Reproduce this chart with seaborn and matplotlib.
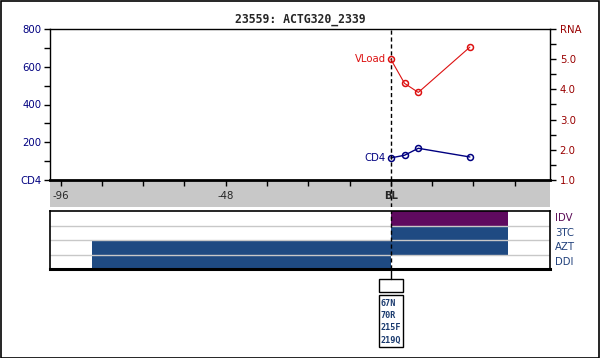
import numpy as np
import pandas as pd
import matplotlib
matplotlib.use("Agg")
import matplotlib.pyplot as plt
import seaborn as sns
from matplotlib.patches import Rectangle
from matplotlib.lines import Line2D
from matplotlib.transforms import blended_transform_factory

# ---- data ----
title = "23559: ACTG320_2339"
weeks = [0, 4, 8, 23]
cd4 = [117, 131, 168, 122]
vload = [5.0, 4.2, 3.9, 5.4]
xtick_vals = [-96, -48, 0]
xtick_labels = ["-96", "-48", "BL"]
cd4_ticks = [0, 200, 400, 600, 800]
cd4_tick_labels = ["CD4", "200", "400", "600", "800"]
rna_ticks = [1.0, 2.0, 3.0, 4.0, 5.0, 6.0]
rna_tick_labels = ["1.0", "2.0", "3.0", "4.0", "5.0", "RNA"]
drugs = ["IDV", "3TC", "AZT", "DDI"]
drug_start = [0, 0, -87, -87]
drug_stop = [34, 34, 34, 0]
mutations = ["67N", "70R", "215F", "219Q"]

sns.set_theme(style="white")
plt.rcParams["font.family"] = ["DejaVu Sans"]

W, H = 600, 358
fig = plt.figure(figsize=(W / 100, H / 100), dpi=100)
fig.patch.set_facecolor("white")

def rect(l, t, r, b):
    return [l / W, (H - b) / H, (r - l) / W, (b - t) / H]

XMIN, XMAX = -99.1, 46.3
NAVY = "#000080"
DRED = "#990000"
RED = "#dd1111"
BAR_BLUE = "#1f4a82"
BAR_PURPLE = "#5f0a5f"

# gray band
axg = fig.add_axes(rect(50, 180, 550, 207))
axg.set_facecolor("#c8c8c8")
axg.set_xlim(XMIN, XMAX)
axg.set_ylim(0, 1)
axg.set_xticks([]); axg.set_yticks([])
for s in axg.spines.values():
    s.set_visible(False)
axg.axvline(0, color="black", lw=1, ls=(0, (3, 2)))

# main axes
ax = fig.add_axes(rect(50, 29, 550, 180))
ax.set_facecolor("none")
ax.set_xlim(XMIN, XMAX)
ax.set_ylim(0, 800)
df = pd.DataFrame({"week": weeks, "cd4": cd4, "vload": vload})
sns.lineplot(data=df, x="week", y="cd4", ax=ax, color=NAVY, lw=1,
             marker="o", markersize=4.3, markerfacecolor="none",
             markeredgecolor=NAVY, markeredgewidth=1.1)
ax.set_xlabel(""); ax.set_ylabel("")
ax.set_yticks(cd4_ticks)
ax.set_yticklabels(cd4_tick_labels, color=NAVY, fontsize=7.3)
ax.set_yticks(np.arange(100, 800, 200), minor=True)
ax.tick_params(axis="y", which="both", direction="out", length=4, width=1,
               color="black", left=True, pad=2)
ax.set_xticks(xtick_vals)
ax.set_xticklabels(xtick_labels, fontsize=7.3)
ax.get_xticklabels()[2].set_fontweight("bold")
ax.set_xticks(np.arange(-84, 46, 12), minor=True)
ax.tick_params(axis="x", which="both", direction="out", length=4, width=1,
               color="black", bottom=True, pad=4)
for s in ["left", "top", "right"]:
    ax.spines[s].set_color("black"); ax.spines[s].set_linewidth(1)
ax.spines["bottom"].set_color("black"); ax.spines["bottom"].set_linewidth(2)
ax.axvline(0, color="black", lw=1, ls=(0, (3, 2)))
ax.text(weeks[0] - 1.5, cd4[0], "CD4", color=NAVY, fontsize=7.3,
        ha="right", va="center")

ax2 = ax.twinx()
ax2.set_ylim(1, 6)
sns.lineplot(data=df, x="week", y="vload", ax=ax2, color=RED, lw=0.8,
             marker="o", markersize=4.3, markerfacecolor="none",
             markeredgecolor=RED, markeredgewidth=1.1)
ax2.set_ylabel("")
ax2.set_yticks(rna_ticks)
ax2.set_yticklabels(rna_tick_labels, color=DRED, fontsize=7.3)
ax2.set_yticks(np.arange(1.5, 6, 1.0), minor=True)
ax2.tick_params(axis="y", which="both", direction="out", length=4, width=1,
                color="black", right=True, pad=3)
for s in ax2.spines.values():
    s.set_visible(False)
ax2.text(weeks[0] - 1.5, vload[0], "VLoad", color=RED, fontsize=7.3,
         ha="right", va="center")

fig.text(300 / W, 1 - 20 / H, title, ha="center", va="center",
         fontsize=8.3, fontweight="bold", family="DejaVu Sans Mono")

# treatment axes
axt = fig.add_axes(rect(50, 211, 550, 269))
axt.set_xlim(XMIN, XMAX)
axt.set_ylim(0, len(drugs))
ypos = [len(drugs) - i - 0.5 for i in range(len(drugs))]
for d, y, a, b in zip(drugs, ypos, drug_start, drug_stop):
    c = BAR_PURPLE if d == "IDV" else BAR_BLUE
    axt.barh(y, b - a, left=a, height=1.0, color=c, edgecolor="none")
    axt.text(1.01, y / len(drugs), d, transform=axt.transAxes, ha="left",
             va="center", fontsize=7.3,
             color="#5a0a55" if d == "IDV" else "#1f3f7a")
for y in range(1, len(drugs)):
    axt.axhline(y, color="#c8c8c8", lw=1)
axt.axvline(0, color="black", lw=1, ls=(0, (3, 2)))
axt.set_xticks([]); axt.set_yticks([])
for s in axt.spines.values():
    s.set_color("black"); s.set_linewidth(1.2)
axt.spines["bottom"].set_linewidth(2.2)

# mutation boxes
tr = blended_transform_factory(axt.transData, fig.transFigure)
half = 12 / 3.4375
fig.add_artist(Line2D([0, 0], [1 - 270 / H, 1 - 279 / H], transform=tr,
                      color="black", lw=1))
fig.add_artist(Rectangle((-half, 1 - 292 / H), 2 * half, 13 / H,
                         transform=tr, fill=False, edgecolor="black", lw=1))
fig.add_artist(Rectangle((-half, 1 - 347 / H), 2 * half, 52 / H,
                         transform=tr, fill=False, edgecolor="black", lw=1))
for i, m in enumerate(mutations):
    fig.text(-half + 0.5, 1 - (303 + i * 12.5) / H, m, transform=tr,
             ha="left", va="center", fontsize=6.1, color="#1a3a6e",
             fontweight="bold", family="DejaVu Sans Mono")

# figure border
fig.add_artist(Rectangle((0.5 / W, 0.5 / H), 1 - 1.5 / W, 1 - 1.5 / H,
                         transform=fig.transFigure, fill=False,
                         edgecolor="black", lw=1.2))

fig.savefig("out.png", dpi=100)
